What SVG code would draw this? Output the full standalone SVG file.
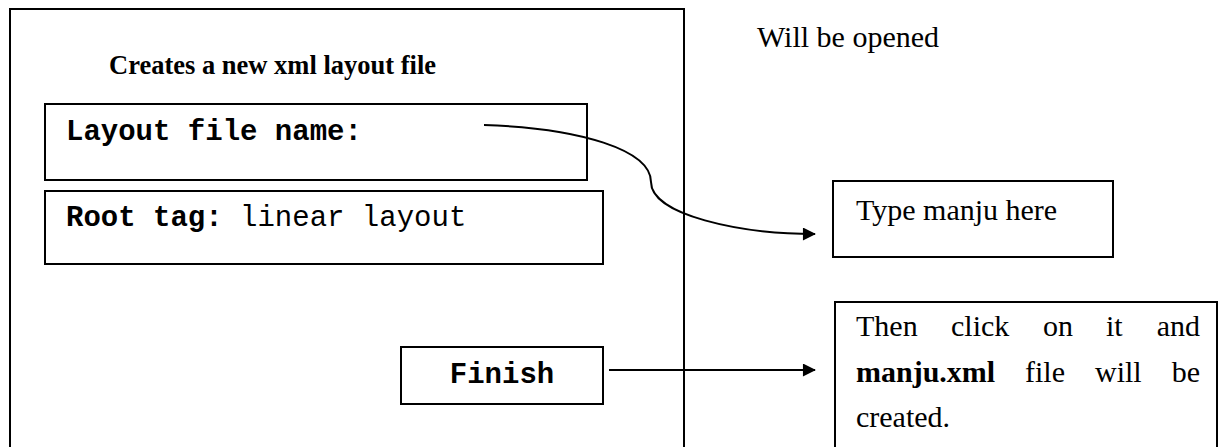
<svg xmlns="http://www.w3.org/2000/svg" width="1227" height="447" viewBox="0 0 1227 447">
<defs>
<style>
.box{fill:none;stroke:#000;stroke-width:2}
.serif{font-family:"Liberation Serif","Times New Roman",serif;font-size:30px;fill:#000}
.mono{font-family:"Liberation Mono","Courier New",monospace;font-size:29px;fill:#000}
.b{font-weight:bold}
.conn{fill:none;stroke:#000;stroke-width:2}
</style>
<marker id="arr" viewBox="0 0 14 14" refX="13" refY="7" markerWidth="14" markerHeight="13" markerUnits="userSpaceOnUse" orient="auto">
<path d="M0,0 L14,7 L0,14 Z" fill="#000"/>
</marker>
</defs>
<rect width="1227" height="447" fill="#fff"/>
<g id="dialog">
<rect class="box" x="10" y="9" width="674" height="460"/>
<text class="serif b" x="109" y="74" style="font-size:26.5px">Creates a new xml layout file</text>
</g>
<g id="layout-file-name">
<rect class="box" x="45" y="104" width="542" height="76"/>
<text class="mono b" x="66" y="140">Layout file name:</text>
</g>
<g id="root-tag">
<rect class="box" x="45" y="191" width="558" height="73"/>
<text class="mono" x="66" y="226"><tspan class="b">Root tag:</tspan> linear layout</text>
</g>
<g id="finish">
<rect class="box" x="401" y="347" width="202" height="57"/>
<text class="mono b" x="502" y="383" text-anchor="middle">Finish</text>
</g>
<g id="will-be-opened">
<text class="serif" x="757" y="47">Will be opened</text>
</g>
<g id="type-manju">
<rect class="box" x="833" y="181" width="280" height="76"/>
<text class="serif" x="856" y="220">Type manju here</text>
</g>
<g id="then-click">
<rect class="box" x="835" y="302" width="382" height="160"/>
<text class="serif" y="336"><tspan x="856">Then</tspan><tspan x="951">click</tspan><tspan x="1043">on</tspan><tspan x="1106">it</tspan><tspan x="1200" text-anchor="end">and</tspan></text>
<text class="serif" y="382"><tspan x="856" class="b">manju.xml</tspan><tspan x="1025">file</tspan><tspan x="1095">will</tspan><tspan x="1200" text-anchor="end">be</tspan></text>
<text class="serif" x="856" y="427">created.</text>
</g>
<g id="connectors">
<path class="conn" d="M484,125 C580,128 651,150 651,182 C651,215 740,234 815,234" marker-end="url(#arr)"/>
<line class="conn" x1="609" y1="370" x2="815" y2="370" marker-end="url(#arr)"/>
</g>
</svg>
